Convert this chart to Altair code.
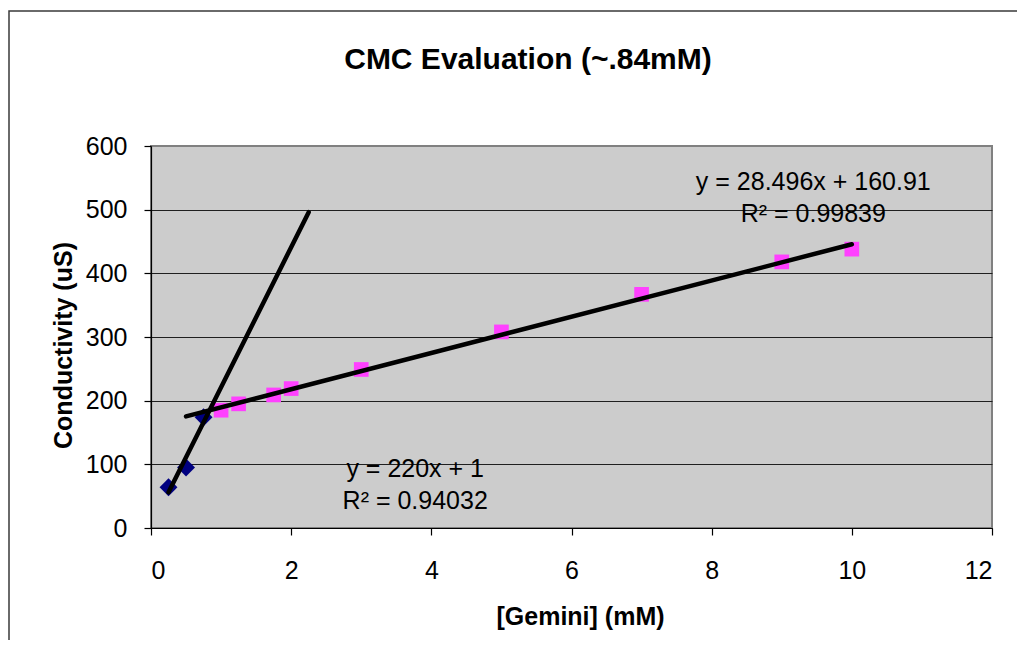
import altair as alt
import pandas as pd

# --- data ---
below_cmc_x = [0.25, 0.5, 0.75]
below_cmc_y = [64, 95, 174]
above_cmc_x = [1, 1.25, 1.75, 2, 3, 5, 7, 9, 10]
above_cmc_y = [185, 195, 209, 219, 249, 308, 367, 418, 438]

x_ticks = [0, 2, 4, 6, 8, 10, 12]
y_ticks = [0, 100, 200, 300, 400, 500, 600]

trend_below_extent = [0.25, 2.25]
trend_above_extent = [0.5, 10]

eq_below = ["y = 220x + 1", "R² = 0.94032"]
eq_above = ["y = 28.496x + 160.91", "R² = 0.99839"]

title_text = "CMC Evaluation (~.84mM)"
x_title = "[Gemini] (mM)"
y_title = "Conductivity (uS)"

df_below = pd.DataFrame({"x": below_cmc_x, "y": below_cmc_y})
df_above = pd.DataFrame({"x": above_cmc_x, "y": above_cmc_y})
df_one = pd.DataFrame({"k": [0]})

FONT = "Liberation Sans"
W, H = 841, 382

xs = alt.Scale(domain=[x_ticks[0], x_ticks[-1]], nice=False, zero=False)
ys = alt.Scale(domain=[y_ticks[0], y_ticks[-1]], nice=False)

x_axis = alt.Axis(values=x_ticks, grid=False, title=x_title, format="d",
                  labelPadding=23, titleX=429, titleY=88,
                  titleBaseline="middle", titleAnchor="middle")
y_axis = alt.Axis(values=y_ticks, grid=True, title=y_title, format="d",
                  gridColor="#1f1f1f", gridWidth=1,
                  gridOpacity=alt.condition("datum.value >= 600", alt.value(0), alt.value(1)),
                  labelPadding=17, titleX=-88, titleY=199,
                  titleBaseline="middle", titleAnchor="middle")

X = alt.X("x:Q", scale=xs, axis=x_axis, title=x_title)
Y = alt.Y("y:Q", scale=ys, axis=y_axis, title=y_title)

frame = alt.Chart(df_one).mark_rect(
    fillOpacity=0, stroke="#3a3a3a", strokeWidth=1.5
).encode(x=alt.value(-142), y=alt.value(-135), x2=alt.value(3000), y2=alt.value(3000))

title_mark = alt.Chart(df_one).mark_text(
    align="center", baseline="middle", font=FONT, fontSize=30, fontWeight="bold", color="black"
).encode(x=alt.value(377), y=alt.value(-86), text=alt.value(title_text))

pts_above = alt.Chart(df_above).mark_point(
    shape="square", filled=True, size=215, color="#FF40FF", opacity=1
).encode(x=X, y=Y)

pts_below = alt.Chart(df_below).mark_point(
    shape="diamond", filled=True, size=320, color="#000080", opacity=1
).encode(x=X, y=Y)

fit_below = alt.Chart(df_below).transform_regression(
    "x", "y", extent=trend_below_extent
).mark_line(color="black", strokeWidth=4.5, strokeCap="round").encode(x=X, y=Y)

fit_above = alt.Chart(df_above).transform_regression(
    "x", "y", extent=trend_above_extent
).mark_line(color="black", strokeWidth=4.5, strokeCap="round").encode(x=X, y=Y)

lbl_below = alt.Chart(df_one).mark_text(
    align="center", baseline="middle", font=FONT, fontSize=25, lineHeight=32, color="black"
).encode(x=alt.datum(3.77), y=alt.datum(93), text=alt.value(eq_below))

lbl_above = alt.Chart(df_one).mark_text(
    align="center", baseline="middle", font=FONT, fontSize=25, lineHeight=32, color="black"
).encode(x=alt.datum(9.45), y=alt.datum(543), text=alt.value(eq_above))

chart = alt.layer(
    frame, pts_above, pts_below, fit_below, fit_above, lbl_below, lbl_above, title_mark
).properties(
    width=W, height=H,
    autosize=alt.AutoSizeParams(type="none"),
    padding={"left": 143, "top": 138, "right": 25, "bottom": 112},
).configure_view(
    fill="#CCCCCC", stroke="#808080", strokeWidth=2
).configure_axis(
    labelFont=FONT, titleFont=FONT, labelFontSize=25, titleFontSize=25,
    titleFontWeight="bold", labelColor="black", titleColor="black",
    domainColor="black", domainWidth=1.2, tickColor="black", tickSize=7, tickWidth=1.2,
)

chart.save("out.html", embed_options={"renderer": "svg", "actions": False})
